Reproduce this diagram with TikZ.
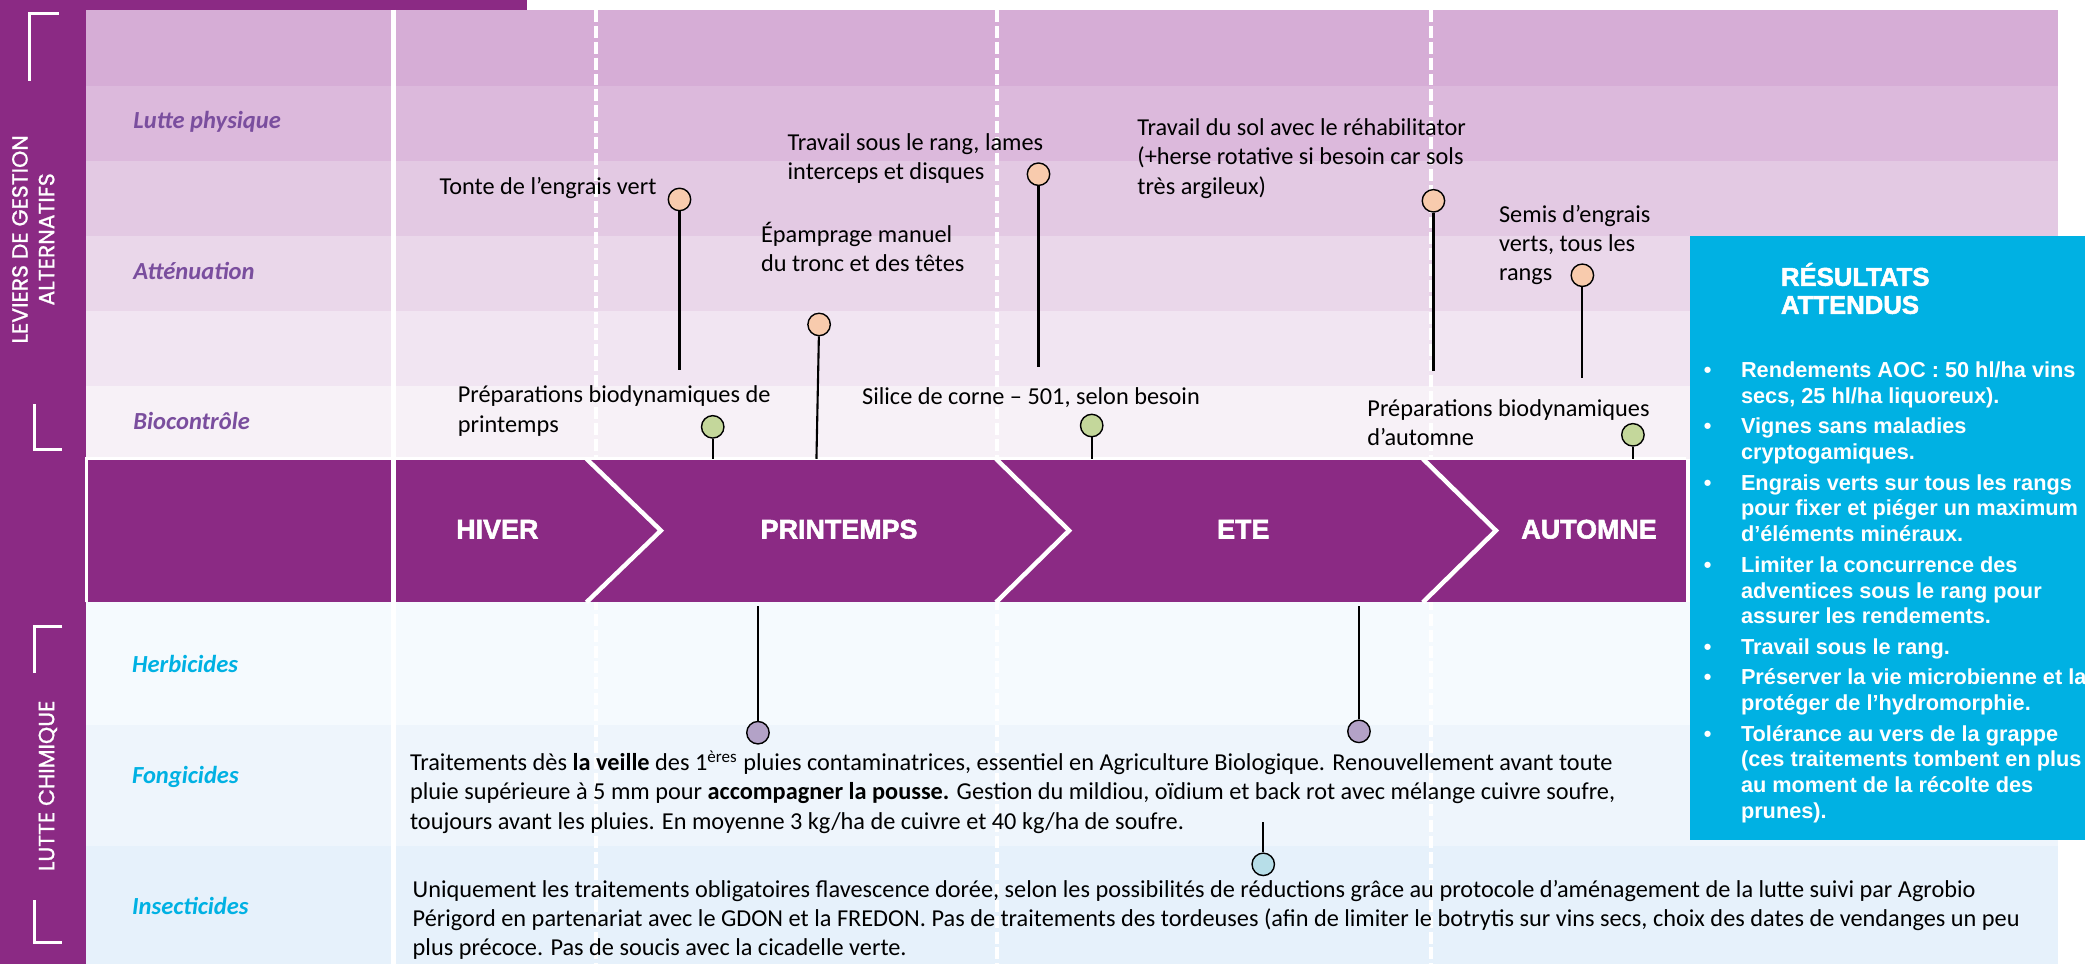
\documentclass[tikz,border=0pt]{standalone}
\usepackage{fontspec}
\setmainfont{Carlito}
\newfontfamily\headfont[BoldFeatures={FakeBold=2}]{Liberation Sans}
\newfontfamily\listfont{Liberation Sans}
\newfontfamily\sidefont[FakeBold=1]{Poppins}
\usetikzlibrary{backgrounds}
\definecolor{prune}{HTML}{8B2A84}
\definecolor{levA}{HTML}{D6ADD6}
\definecolor{levB}{HTML}{DCB9DC}
\definecolor{levC}{HTML}{E3C9E3}
\definecolor{levD}{HTML}{EAD7EA}
\definecolor{levE}{HTML}{F1E5F2}
\definecolor{levF}{HTML}{F7F1F7}
\definecolor{chimA}{HTML}{F5FAFE}
\definecolor{chimB}{HTML}{EEF5FC}
\definecolor{chimC}{HTML}{E6F1FB}
\definecolor{resbleu}{HTML}{00B1E3}
\definecolor{lavande}{HTML}{7A4E9E}
\definecolor{peach}{HTML}{F8CBAD}
\definecolor{olive}{HTML}{C4D79B}
\definecolor{mauve}{HTML}{B3A2C7}
\definecolor{ciel}{HTML}{B7DEE8}
\newcommand{\bord}{1.9pt}
\newcommand{\tige}{0.9pt}

\begin{document}
\begin{tikzpicture}[x=0.2mm,y=-0.2mm,
  dot/.style={circle,draw=black,line width=0.6pt,inner sep=0,minimum size=9.6pt},
  stem/.style={draw=black,line width=\tige},
  txt/.style={inner sep=0,align=left,font=\fontsize{10.4}{12.5}\selectfont},
  rowlev/.style={inner sep=0,anchor=base west,text=lavande,font=\fontsize{10.5}{12}\selectfont\bfseries\itshape},
  rowchim/.style={inner sep=0,anchor=base west,text=resbleu,font=\fontsize{10.5}{12}\selectfont\bfseries\itshape},
  saison/.style={inner sep=0,text=white,font=\headfont\bfseries\fontsize{11.5}{13}\selectfont},
  side/.style={inner sep=0,rotate=90,align=center,text=white,font=\sidefont\fontsize{9.4}{11.4}\selectfont},
  sep/.style={draw=white,line width=1.6pt,dash pattern=on 5.1pt off 1.7pt}]
\useasboundingbox (0,0) rectangle (1568,725);
%bandeau
\fill[prune] (0,0) rectangle (65,725);
\fill[prune] (0,0) rectangle (396,7.5);
\draw[white,line width=1.2pt] (44,10) -- (22,10) -- (22,61);
\draw[white,line width=1.2pt] (26,304) -- (26,338) -- (47,338);
\draw[white,line width=1.2pt] (47,471) -- (26,471) -- (26,506);
\draw[white,line width=1.2pt] (26,677) -- (26,709) -- (47,709);
\node[side] (s1) at (25,180) {LEVIERS DE GESTION\\ALTERNATIFS};
\node[side] (s2) at (36,591) {LUTTE CHIMIQUE};
%leviers
\fill[levA] (65,7.5) rectangle (1548,64.5);
\fill[levB] (65,64.5) rectangle (1548,121);
\fill[levC] (65,121) rectangle (1548,177.5);
\fill[levD] (65,177.5) rectangle (1548,233.5);
\fill[levE] (65,233.5) rectangle (1548,290);
\fill[levF] (65,290) rectangle (1548,345);
%chimique
\fill[chimA] (65,453) rectangle (1548,545.5);
\fill[chimB] (65,545.5) rectangle (1548,636);
\fill[chimC] (65,636) rectangle (1548,725);
%colonnes
\draw[sep] (448,7.5) -- (448,725);
\draw[sep] (750,7.5) -- (750,725);
\draw[sep] (1076,7.5) -- (1076,725);
%saisons
\fill[prune] (65,345) rectangle (1268,453);
\draw[white,line width=1.4pt] (65,453) -- (65,345) -- (1268,345);
\draw[white,line width=\bord] (441,345) -- (497,399) -- (441,453);
\draw[white,line width=\bord] (749,345) -- (804,399) -- (749,453);
\draw[white,line width=\bord] (1070,345) -- (1125,399) -- (1070,453);
\draw[white,line width=\bord] (296,7.5) -- (296,725);
\node[saison] (hiver) at (374,398) {HIVER};
\node[saison] (printemps) at (631,398) {PRINTEMPS};
\node[saison] (ete) at (935,398) {ETE};
\node[saison] (automne) at (1195,398) {AUTOMNE};
%lignes
\node[rowlev] (l1) at (100,97) {Lutte physique};
\node[rowlev] (l2) at (100,210) {Atténuation};
\node[rowlev] (l3) at (100,323) {Biocontrôle};
\node[rowchim] (c1) at (99,506) {Herbicides};
\node[rowchim] (c2) at (99,589) {Fongicides};
\node[rowchim] (c3) at (99,688) {Insecticides};
%attenuation
\node[dot,fill=peach] (p1) at (511,150) {};
\node[dot,fill=peach] (p2) at (616,244) {};
\node[dot,fill=peach] (p3) at (781,131) {};
\node[dot,fill=peach] (p4) at (1078,151) {};
\node[dot,fill=peach] (p5) at (1190,207) {};
\coordinate (p1e) at (511,278);
\coordinate (p2e) at (614,345);
\coordinate (p3e) at (781,276);
\coordinate (p4e) at (1078,279);
\coordinate (p5e) at (1190,284);
\draw[stem] (p1) -- (p1e);
\draw[stem] (p2) -- (p2e);
\draw[stem] (p3) -- (p3e);
\draw[stem] (p4) -- (p4e);
\draw[stem] (p5) -- (p5e);
% base = derniere ligne
\node[txt,anchor=base east] (t1) at (494,146) {Tonte de l’engrais vert};
\node[txt,anchor=base west] (t2) at (572,204) {Épamprage manuel\\du tronc et des têtes};
\node[txt,anchor=base west] (t3) at (592,135) {Travail sous le rang, lames\\interceps et disques};
\node[txt,anchor=base west] (t4) at (855,146) {Travail du sol avec le réhabilitator\\(+herse rotative si besoin car sols\\très argileux)};
\node[txt,anchor=base west] (t5) at (1127,211) {Semis d’engrais\\verts, tous les\\rangs};
%biocontrole
\node[dot,fill=olive] (b1) at (536,321) {};
\node[dot,fill=olive] (b2) at (821,320) {};
\node[dot,fill=olive] (b3) at (1228,327) {};
\coordinate (b1e) at (536,345);
\coordinate (b2e) at (821,345);
\coordinate (b3e) at (1228,345);
\draw[stem] (b1) -- (b1e);
\draw[stem] (b2) -- (b2e);
\draw[stem] (b3) -- (b3e);
\node[txt,anchor=base west] (t6) at (344,325) {Préparations biodynamiques de\\printemps};
\node[txt,anchor=base west] (t7) at (648,304) {Silice de corne – 501, selon besoin};
\node[txt,anchor=base west] (t8) at (1028,335) {Préparations biodynamiques\\d’automne};
%fongicides, insecticides
\node[dot,fill=mauve] (f1) at (570,551) {};
\node[dot,fill=mauve] (f2) at (1022,550) {};
\node[dot,fill=ciel] (i1) at (950,650) {};
\coordinate (f1e) at (570,456);
\coordinate (f2e) at (1022,456);
\coordinate (i1e) at (950,618);
\draw[stem] (f1) -- (f1e);
\draw[stem] (f2) -- (f2e);
\draw[stem] (i1) -- (i1e);
\node[txt,anchor=base west] (t9) at (308,623.5) {Traitements dès \textbf{la veille} des 1\textsuperscript{ères} pluies contaminatrices, essentiel en Agriculture Biologique. Renouvellement avant toute\\pluie supérieure à 5 mm pour \textbf{accompagner la pousse.} Gestion du mildiou, oïdium et back rot avec mélange cuivre soufre,\\toujours avant les pluies. En moyenne 3 kg/ha de cuivre et 40 kg/ha de soufre.};
\node[txt,anchor=base west] (t10) at (310,718.5) {Uniquement les traitements obligatoires flavescence dorée, selon les possibilités de réductions grâce au protocole d’aménagement de la lutte suivi par Agrobio\\Périgord en partenariat avec le GDON et la FREDON. Pas de traitements des tordeuses (afin de limiter le botrytis sur vins secs, choix des dates de vendanges un peu\\plus précoce. Pas de soucis avec la cicadelle verte.};
%resultats
\fill[resbleu] (1271,177.5) rectangle (1568,632);
\node[inner sep=0,anchor=base west,align=left,text=white,font=\headfont\bfseries\fontsize{11}{12}\selectfont] (r0) at (1339,236) {RÉSULTATS\\ATTENDUS};
\node[inner sep=0,anchor=base west,text=white,font=\listfont\bfseries\fontsize{9.3}{11}\selectfont] (r1) at (1281,284) {\begin{tabular}[t]{@{}p{15.9pt}@{}l@{}}
\textbullet & Rendements AOC : 50 hl/ha vins\\
 & secs, 25 hl/ha liquoreux).\\[2.1pt]
\textbullet & Vignes sans maladies\\
 & cryptogamiques.\\[2.1pt]
\textbullet & Engrais verts sur tous les rangs\\
 & pour fixer et piéger un maximum\\
 & d’éléments minéraux.\\[2.1pt]
\textbullet & Limiter la concurrence des\\
 & adventices sous le rang pour\\
 & assurer les rendements.\\[2.1pt]
\textbullet & Travail sous le rang.\\[2.1pt]
\textbullet & Préserver la vie microbienne et la\\
 & protéger de l’hydromorphie.\\[2.1pt]
\textbullet & Tolérance au vers de la grappe\\
 & (ces traitements tombent en plus\\
 & au moment de la récolte des\\
 & prunes).
\end{tabular}};
\end{tikzpicture}
\end{document}
